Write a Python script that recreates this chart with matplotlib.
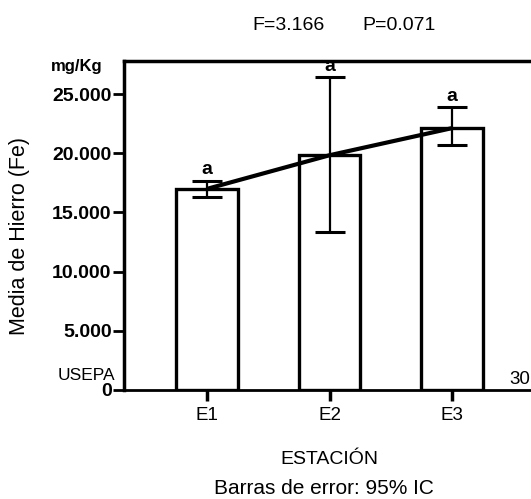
import matplotlib
matplotlib.use('Agg')
import matplotlib.pyplot as plt

# ---- data ----
stations = ['E1', 'E2', 'E3']
means = [16990, 19830, 22120]
ci_low = [16280, 13350, 20730]
ci_high = [17690, 26400, 23880]
letters = ['a', 'a', 'a']
yticks = [0, 5000, 10000, 15000, 20000, 25000]
ytick_labels = ['0', '5.000', '10.000', '15.000', '20.000', '25.000']

plt.rcParams['font.family'] = ['Liberation Sans', 'DejaVu Sans']

W, H = 531, 499
fig = plt.figure(figsize=(W / 100, H / 100), dpi=100)
ax = fig.add_axes([124 / W, 109 / H, 407 / W, 329 / H])

x = list(range(len(stations)))
ax.bar(x, means, width=0.5, facecolor='white', edgecolor='black',
       linewidth=2.4, zorder=2)
ax.plot(x, means, color='black', lw=3, zorder=3, solid_capstyle='butt')
yerr = [[m - l for m, l in zip(means, ci_low)],
        [h - m for m, h in zip(means, ci_high)]]
ax.errorbar(x, means, yerr=yerr, fmt='none', ecolor='black', elinewidth=1.6,
            capsize=11, capthick=2.2, zorder=4)
for xi, h, t in zip(x, ci_high, letters):
    ax.annotate(t, (xi, h), xytext=(0, 1.5), textcoords='offset points',
                ha='center', va='bottom', fontsize=14, fontweight='bold')

ax.set_xlim(-0.678, 2.645)
ax.set_ylim(0, 27790)
ax.set_yticks(yticks)
ax.set_yticklabels(ytick_labels, fontweight='bold')
ax.set_xticks(x)
ax.set_xticklabels(stations)
ax.tick_params(axis='y', direction='out', length=8, width=2, labelsize=14, pad=1)
ax.tick_params(axis='x', direction='out', length=8, width=2.5, labelsize=13.5, pad=4)

ax.spines['right'].set_visible(False)
for s in ['top', 'left']:
    ax.spines[s].set_linewidth(2.5)
ax.spines['bottom'].set_linewidth(2)


def ftext(px, py, s, **kw):
    fig.text(px / W, 1 - py / H, s, **kw)


ftext(252, 25, 'F=3.166', ha='left', va='center', fontsize=14)
ftext(362, 25, 'P=0.071', ha='left', va='center', fontsize=14)
ftext(77, 66, 'mg/Kg', ha='center', va='center', fontsize=12, fontweight='bold')
ftext(20, 236, 'Media de Hierro (Fe)', rotation=90, ha='center', va='center', fontsize=15.5)
ftext(86, 375, 'USEPA', ha='center', va='center', fontsize=12.5)
ftext(509, 379, '30', ha='left', va='center', fontsize=13.5)
ftext(329, 460, 'ESTACIÓN', ha='center', va='center', fontsize=14)
ftext(324, 488, 'Barras de error: 95% IC', ha='center', va='center', fontsize=15)

fig.savefig('out.png', dpi=100)
